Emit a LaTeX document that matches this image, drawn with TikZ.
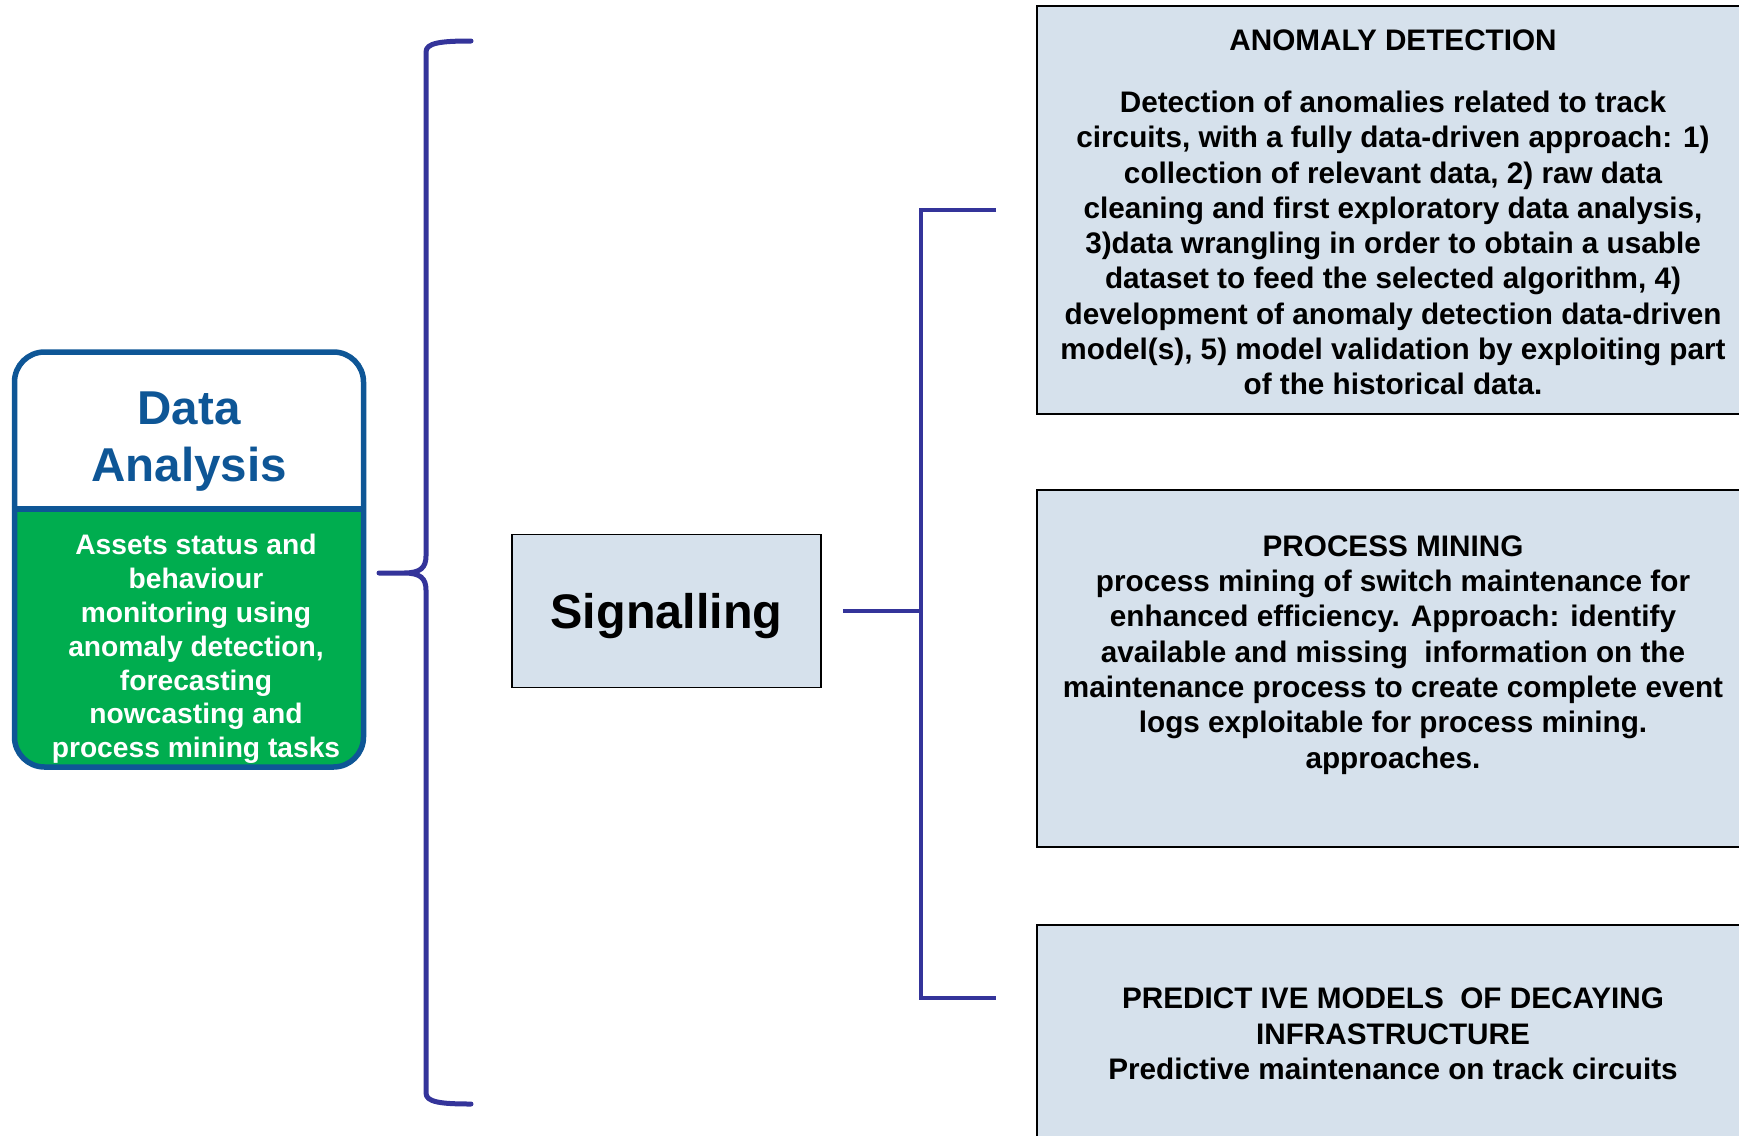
\documentclass[tikz,border=0pt]{standalone}
\usepackage{fontspec}
\setmainfont{Liberation Sans}
\definecolor{bracecol}{RGB}{52,52,154}
\definecolor{boxfill}{RGB}{214,225,236}
\definecolor{dablue}{RGB}{14,86,150}
\definecolor{dagreen}{RGB}{0,173,79}
\begin{document}
\begin{tikzpicture}[x=1pt,y=-1pt,
  braceline/.style={draw=bracecol,line width=5pt,line cap=round,line join=round},
  conn/.style={draw=bracecol,line width=4pt},
  infobox/.style={draw=black,line width=1.8pt,fill=boxfill,inner sep=0pt,minimum width=713pt},
  infotext/.style={align=center,inner sep=0pt,font=\fontsize{29.7pt}{35.3pt}\selectfont\bfseries},
  dabox/.style={draw=dablue,line width=5.5pt,rounded corners=30pt,inner sep=0pt,
    minimum width=349pt,minimum height=415pt},
  sigbox/.style={draw=black,line width=1.8pt,fill=boxfill,inner sep=0pt,text depth=0pt,
    minimum width=309pt,minimum height=153pt,font=\fontsize{48.5pt}{56pt}\selectfont\bfseries},
]
\useasboundingbox (0,0) rectangle (1739,1135);
\clip (0,0) rectangle (1739,1135);

% left panel: green lower part inside the rounded outline
\begin{scope}
  \clip[rounded corners=30pt] (14.5,352) rectangle (363.5,767);
  \fill[dagreen] (14.5,509) rectangle (363.5,767);
\end{scope}
\node[dabox] (da) at (189,559.5) {};
\draw[dablue,line width=5.5pt] (da.west |- 0,509) -- (da.east |- 0,509);
\node[align=center,inner sep=0pt,text=dablue,font=\fontsize{47.5pt}{57pt}\selectfont\bfseries]
  (da-title) at (189,442) {Data\\Analysis};
\node[align=center,inner sep=0pt,text=white,font=\fontsize{28.2pt}{33.8pt}\selectfont\bfseries]
  (da-body) at (196,649) {Assets status and\\behaviour\\monitoring using\\anomaly detection,\\forecasting\\nowcasting and\\process mining tasks};

% curly brace
\draw[braceline] (471,41) .. controls (440,41) and (426,43) .. (426,52)
  -- (426,556) .. controls (426,568) and (420,573) .. (404,573) -- (379,573)
  -- (404,573) .. controls (420,573) and (426,578) .. (426,590)
  -- (426,1093) .. controls (426,1102) and (440,1104) .. (471,1104);

% domain box
\node[sigbox] (sig) at (666.5,611) {Signalling};

% application boxes
\node[infobox,minimum height=408pt] (ad) at (1393.5,210) {};
\node[infotext] (ad-title) at (1393,40) {ANOMALY DETECTION};
\node[infotext] (ad-body) at (1393,243) {Detection of anomalies related to track\\
circuits, with a fully data-driven approach: 1)\\
collection of relevant data, 2) raw data\\
cleaning and first exploratory data analysis,\\
3)data wrangling in order to obtain a usable\\
dataset to feed the selected algorithm, 4)\\
development of anomaly detection data-driven\\
model(s), 5) model validation by exploiting part\\
of the historical data.};

\node[infobox,minimum height=357pt] (pm) at (1393.5,668.5) {};
\node[infotext] (pm-text) at (1393,655) {PROCESS MINING\\
process mining of switch maintenance for\\
enhanced efficiency. Approach: identify\\
available and missing~ information on the\\
maintenance process to create complete event\\
logs exploitable for process mining.\\
approaches.};

\node[infobox,minimum height=235pt] (pd) at (1393.5,1042.5) {};
\node[infotext] (pd-text) at (1393,1034) {PREDICT IVE MODELS~ OF DECAYING\\
INFRASTRUCTURE\\
Predictive maintenance on track circuits};

% connectors
\coordinate (jm) at (921,611);
\coordinate (jt) at (921,210);
\coordinate (jb) at (921,998);
\draw[conn,shorten <=21pt] (sig.east) -- (jm);
\draw[conn,shorten <=40pt,shorten >=40pt] (ad.west) -- (jt) -- (jb) -- (jb -| pd.west);
\end{tikzpicture}
\end{document}
